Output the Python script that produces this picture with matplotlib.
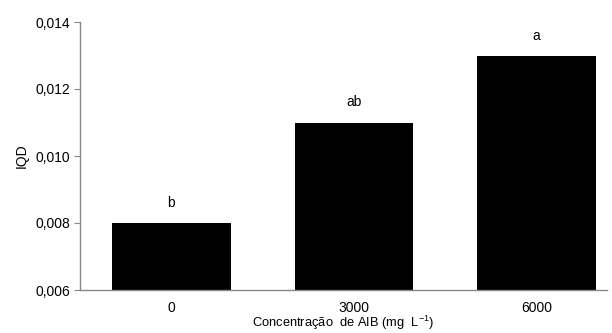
import matplotlib
matplotlib.use("Agg")
import matplotlib.pyplot as plt

categories = ["0", "3000", "6000"]
values = [0.008, 0.011, 0.013]
letters = ["b", "ab", "a"]
yticks = [0.006, 0.008, 0.010, 0.012, 0.014]

plt.rcParams['font.family'] = ['Liberation Sans', 'DejaVu Sans']
plt.rcParams['mathtext.fontset'] = 'custom'
plt.rcParams['mathtext.rm'] = 'Liberation Sans'

fig = plt.figure(figsize=(6.12, 3.33), dpi=100)
ax = fig.add_axes([80/612, 1-290/333, (607-80)/612, (290-22)/333])
x = range(len(categories))
ax.bar(x, values, width=0.65, color="black", bottom=0)
ax.set_ylim(0.006, 0.014)
ax.set_xlim(-0.5, 2.385)
ax.set_yticks(yticks)
ax.set_yticklabels([f"{v:.3f}".replace(".", ",") for v in yticks], fontsize=10)
ax.set_xticks(list(x))
ax.set_xticklabels(categories, fontsize=10)
ax.tick_params(axis='x', length=0, pad=8)
ax.tick_params(axis='y', length=4, color="#888888", pad=3)
for s in ["top", "right"]:
    ax.spines[s].set_visible(False)
for s in ["left", "bottom"]:
    ax.spines[s].set_color("#888888")
    ax.spines[s].set_linewidth(1)
for xi, v, l in zip(x, values, letters):
    ax.annotate(l, (xi, v), xytext=(0, 20), textcoords="offset pixels",
                ha="center", va="center", fontsize=10)
ax.set_ylabel("IQD", fontsize=10, labelpad=5)
ax.set_xlabel("Concentração  de AIB (mg  L$^{\\mathrm{-1}}$)", fontsize=9.3, labelpad=-1)
fig.savefig("out.png", dpi=100)
